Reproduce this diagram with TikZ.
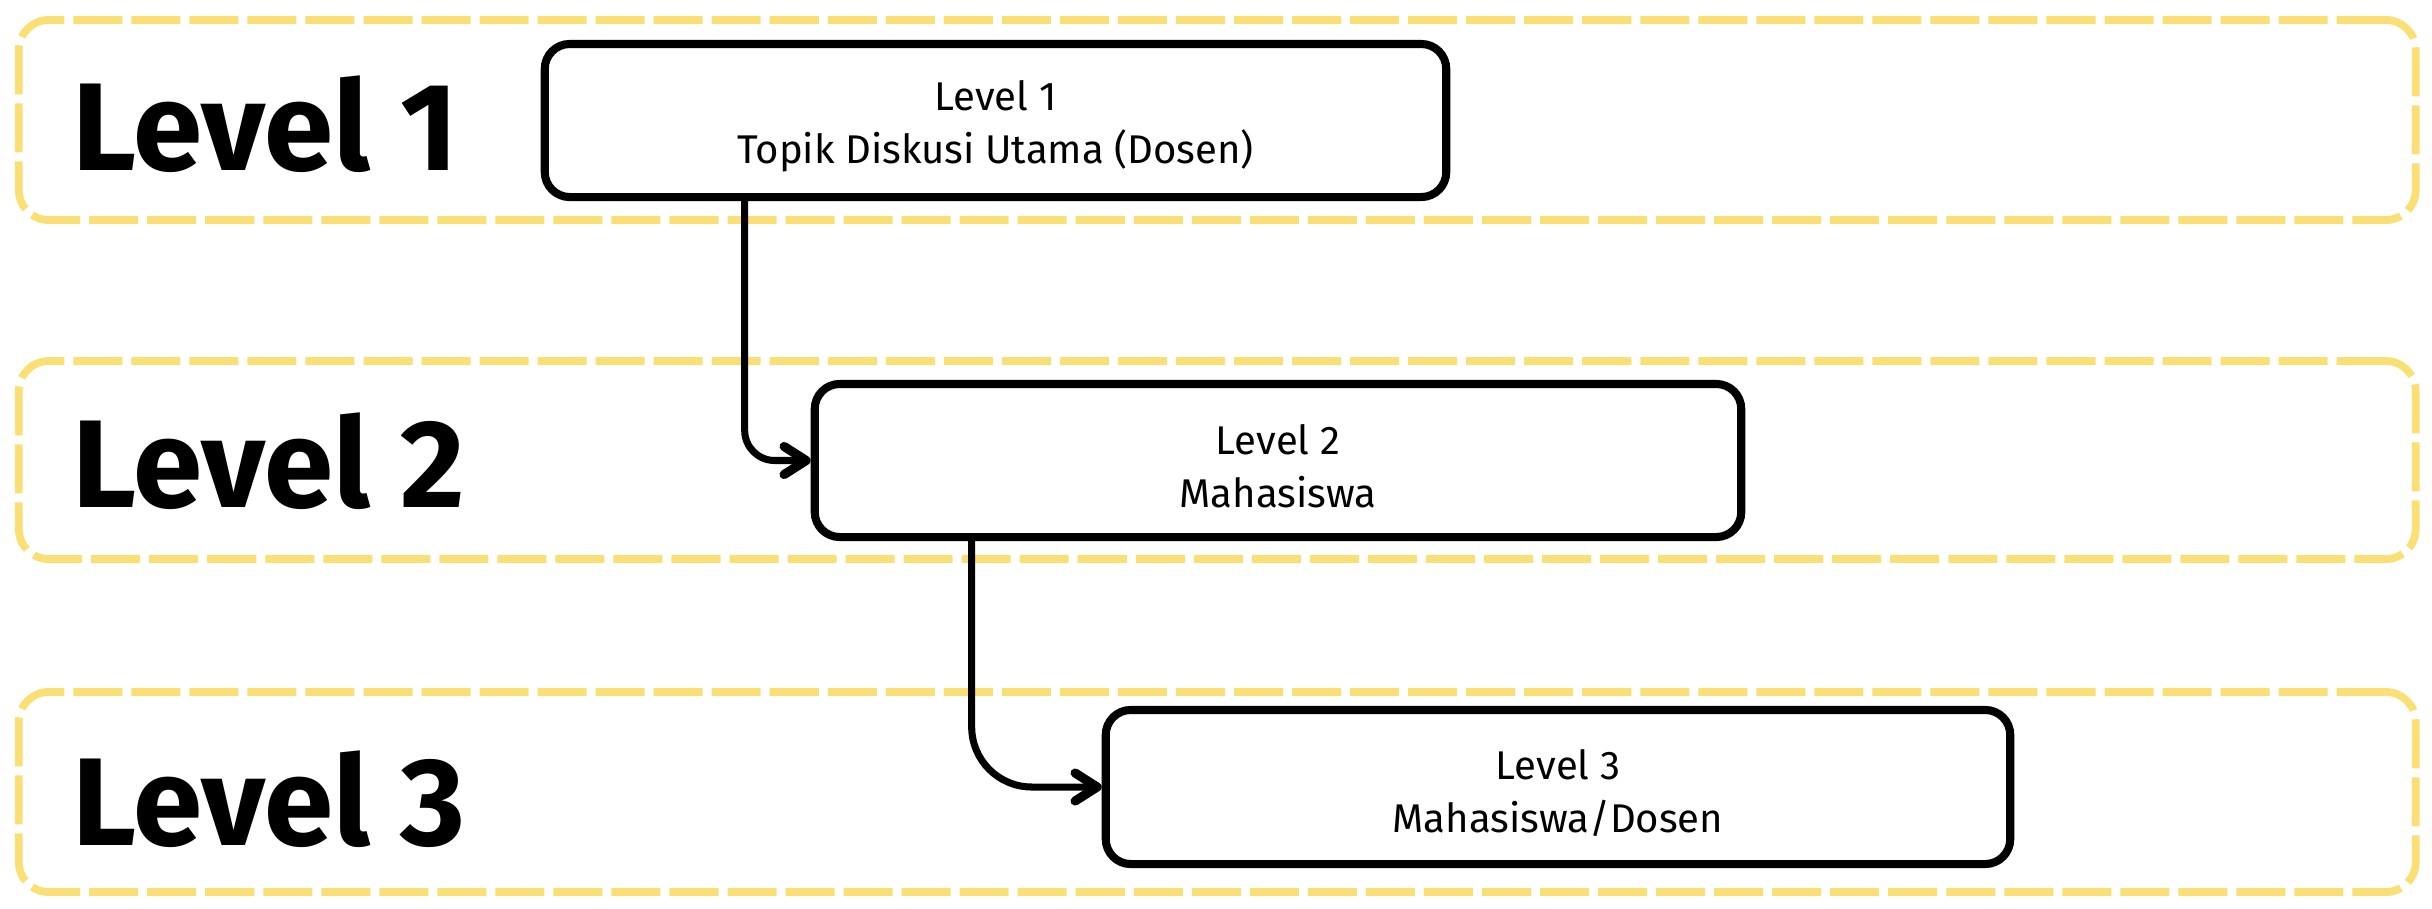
\documentclass[tikz,border=0pt]{standalone}
\usepackage{fontspec}
\setmainfont{Fira Sans}
\usetikzlibrary{arrows.meta,calc}
\definecolor{laneyellow}{HTML}{FADF74}
\newcommand{\toppad}{\rule{0pt}{11.8pt}}
\tikzset{
  lane/.style={draw=laneyellow, line width=2.2pt, dash pattern=on 0.49cm off 0.09cm,
    rounded corners=0.3cm, minimum width=23.955cm, inner sep=0pt},
  levelbox/.style={draw=black, line width=2.3pt, rounded corners=0.25cm, fill=white,
    align=center, inner sep=0pt, font=\fontsize{11.4pt}{15.1pt}\selectfont},
  bigtext/.style={anchor=base west, inner sep=0pt, font=\fontsize{35.5pt}{40pt}\selectfont\bfseries},
  conn/.style={draw=black, line width=2pt, -{Straight Barb[length=0.22cm, width=0.28cm, round, line width=2.6pt]}}
}
\begin{document}
\begin{tikzpicture}[x=0.01cm, y=-0.01cm]
\useasboundingbox (0,0) rectangle (2432,908);
% lanes
\node[lane, minimum height=2.0cm] (lane1) at (1217.25,120) {};
\node[lane, minimum height=1.98cm] (lane2) at (1217.25,460) {};
\node[lane, minimum height=2.0cm] (lane3) at (1217.25,792) {};
% lane titles
\node[bigtext] (t1) at (72,170) {Level 1};
\node[bigtext] (t2) at (72,507) {Level 2};
\node[bigtext] (t3) at (72,845) {Level 3};
% boxes
\node[levelbox, minimum width=9.01cm, minimum height=1.53cm] (n1) at (995.5,120.5) {\toppad Level 1\\Topik Diskusi Utama (Dosen)};
\node[levelbox, minimum width=9.26cm, minimum height=1.53cm] (n2) at (1278,460.5) {\toppad Level 2\\Mahasiswa};
\node[levelbox, minimum width=9.04cm, minimum height=1.54cm] (n3) at (1558,787) {\toppad Level 3\\Mahasiswa/Dosen};
% connectors
\draw[conn, rounded corners=0.3cm] ($(n1.south west)+(204,0)$) |- (n2.west);
\draw[conn, rounded corners=0.6cm] ($(n2.south west)+(161,0)$) |- (n3.west);
\end{tikzpicture}
\end{document}
